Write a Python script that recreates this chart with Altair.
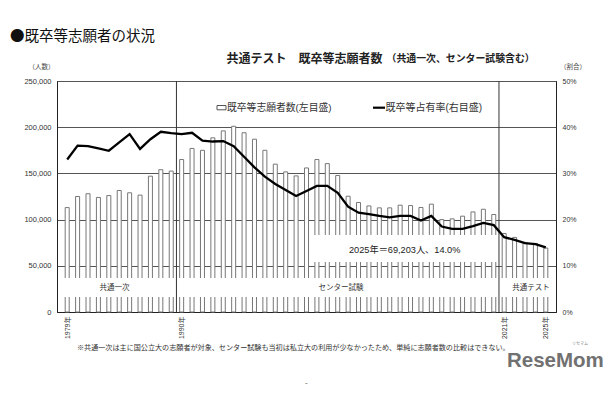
import altair as alt
import pandas as pd

years = list(range(1979, 2026))
applicants = [113000, 125000, 128000, 124000, 126000, 131500, 129000, 126500, 147000, 154000,
              152500, 165000, 177000, 175000, 188500, 196000, 201000, 194000, 187000, 175000,
              160000, 151600, 147300, 155900, 165000, 160600, 147700, 125300, 118500, 114800,
              112700, 112700, 115600, 115200, 113100, 116700, 100000, 100800, 103700, 108300,
              111200, 105500, 85000, 80700, 75300, 74200, 69203]
share_pct = [33.0, 36.0, 35.9, 35.4, 34.9, 36.7, 38.5, 35.3, 37.4, 39.0,
             38.7, 38.5, 38.8, 37.1, 36.9, 37.0, 35.9, 33.6, 31.3, 29.3,
             27.7, 26.4, 25.1, 26.2, 27.3, 27.3, 25.8, 22.8, 21.5, 21.2,
             20.8, 20.5, 20.8, 20.8, 19.8, 20.8, 18.5, 18.0, 18.0, 18.6,
             19.3, 18.8, 16.2, 15.6, 14.9, 14.7, 14.0]
era_breaks = [1989.5, 2020.5]
year_labels = [1979, 1990, 2021, 2025]
left_ticks = [0, 50000, 100000, 150000, 200000, 250000]
right_ticks = [0, 0.1, 0.2, 0.3, 0.4, 0.5]

df = pd.DataFrame({"year": years, "count": applicants, "share": [p / 100 for p in share_pct]})

JP = "Liberation Sans, Noto Sans CJK JP"
CJK = "Noto Sans CJK JP"
XD = [1978.5, 2025.5]
YD = [0, 250000]
xs = alt.Scale(domain=XD, nice=False, zero=False)
ys = alt.Scale(domain=YD, nice=False)

xaxis = alt.Axis(values=year_labels, labelExpr="datum.value + '年'", labelAngle=270,
                 labelAlign="right", labelBaseline="middle", ticks=False, grid=False,
                 labelFontSize=7, labelFont=JP, labelColor="#333", labelPadding=4,
                 labelOverlap=False, domainColor="#222", title=None)

bars = alt.Chart(df).mark_bar(size=4, fill="white", stroke="#777", strokeWidth=1).encode(
    x=alt.X("year:Q", scale=xs, axis=xaxis),
    y=alt.Y("count:Q", scale=ys,
            axis=alt.Axis(values=left_ticks, format=",d", ticks=False, grid=True, gridColor="#555",
                          gridWidth=1, labelFontSize=7.5, labelFont="Liberation Sans",
                          labelColor="#333", labelPadding=6, domainColor="#222", title=None)),
)

# white bands that cut the bars (era label band and annotation box)
band_df = pd.DataFrame({"x1": [1978.56, 2002.5], "x2": [2025.44, 2020.5],
                        "y1": [16200, 54100], "y2": [36800, 83300]})
bands = alt.Chart(band_df).mark_rect(fill="white").encode(
    x=alt.X("x1:Q", scale=xs, axis=xaxis), x2="x2:Q",
    y=alt.Y("y1:Q", scale=ys, axis=None), y2="y2:Q",
)

seps = alt.Chart(pd.DataFrame({"b": era_breaks})).mark_rule(color="#333", strokeWidth=1).encode(
    x=alt.X("b:Q", scale=xs, axis=xaxis)
)

line = alt.Chart(df).mark_line(color="#000", strokeWidth=2.3).encode(
    x=alt.X("year:Q", scale=xs, axis=xaxis),
    y=alt.Y("share:Q", scale=alt.Scale(domain=[0, 0.5], nice=False),
            axis=alt.Axis(orient="right", values=right_ticks, format=".0%", ticks=False, grid=False,
                          labelFontSize=7, labelFont="Liberation Sans", labelColor="#333",
                          labelPadding=6, domainColor="#222", title=None)),
)


def txt(s, x, y, size, align="left", weight="normal", color="#222", font=JP, angle=0):
    return alt.Chart(pd.DataFrame({"t": [s]})).mark_text(
        align=align, baseline="middle", fontSize=size, fontWeight=weight, color=color, font=font,
        angle=angle
    ).encode(text="t:N", x=alt.value(x), y=alt.value(y))


texts = [
    txt("●既卒等志願者の状況", -47, -44.5, 14.5, font=CJK, color="#111"),
    txt("共通テスト　既卒等志願者数", 169.5, -22.5, 12, weight="bold", font=CJK),
    txt("（共通一次、センター試験含む）", 329.5, -22, 9.9, weight="bold", font=CJK),
    txt("（人数）", -15.5, -14.3, 6.5, align="center", color="#444", font=CJK),
    txt("（割合）", 516, -14.3, 6.5, align="center", color="#444", font=CJK),
    txt("既卒等志願者数(左目盛)", 170, 26.7, 9.8, color="#333"),
    txt("既卒等占有率(右目盛)", 328.5, 26.7, 10, color="#333"),
    txt("共通一次", 57.5, 207, 7.5, align="center", color="#333"),
    txt("センター試験", 284, 206.5, 7.5, align="center", color="#333"),
    txt("共通テスト", 474, 206.5, 7.5, align="center", color="#333"),
    txt("2025年＝69,203人、14.0%", 292, 169, 9.2, color="#222"),
    txt("※共通一次は主に国公立大の志願者が対象、センター試験も当初は私立大の利用が少なかったため、単純に志願者数の比較はできない。",
        20, 267, 7.1, color="#333"),
    txt("ReseMom", 450, 280, 20.5, weight="bold", color="#717171", font="Liberation Sans"),
    txt("リセマム", 515, 263, 4, color="#888"),
    txt("-", 248, 302, 8, color="#555"),
]

legend_box = alt.Chart(pd.DataFrame({"k": [1]})).mark_rect(
    fill="white", stroke="#555", strokeWidth=1).encode(
    x=alt.value(160), x2=alt.value(169), y=alt.value(24.5), y2=alt.value(28.8))
legend_line = alt.Chart(pd.DataFrame({"k": [1]})).mark_rule(color="#000", strokeWidth=2.2).encode(
    x=alt.value(316), x2=alt.value(328), y=alt.value(26.7))

chart = alt.layer(bars, bands, seps, line, legend_box, legend_line, *texts).resolve_scale(
    y="independent"
).properties(
    width=499, height=231,
    autosize=alt.AutoSizeParams(type="none"),
    padding={"left": 57, "top": 81, "right": 54, "bottom": 88},
    background="white",
).configure_view(stroke="#222", strokeWidth=1)

chart.save("out.html", embed_options={"renderer": "svg", "actions": False})
